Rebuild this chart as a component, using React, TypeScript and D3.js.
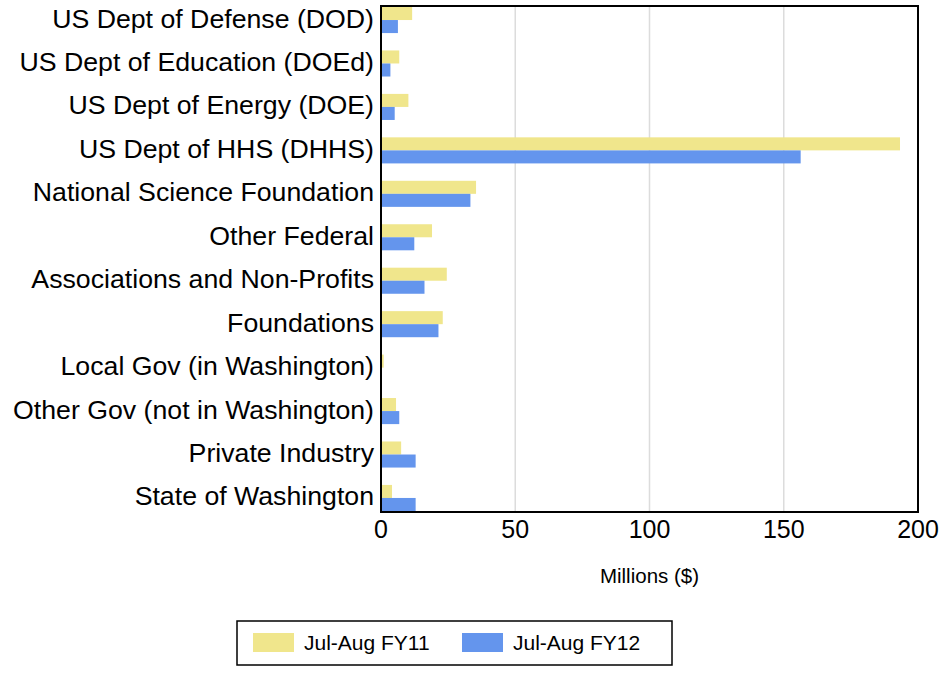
import React from "react";
import * as d3 from "d3";

const categories = [
  "US Dept of Defense (DOD)",
  "US Dept of Education (DOEd)",
  "US Dept of Energy (DOE)",
  "US Dept of HHS (DHHS)",
  "National Science Foundation",
  "Other Federal",
  "Associations and Non-Profits",
  "Foundations",
  "Local Gov (in Washington)",
  "Other Gov (not in Washington)",
  "Private Industry",
  "State of Washington",
];
const fy11 = [11.6, 6.8, 10.2, 193.3, 35.4, 19.0, 24.5, 23.0, 1.0, 5.6, 7.5, 4.1];
const fy12 = [6.3, 3.5, 5.1, 156.3, 33.3, 12.4, 16.2, 21.4, 0, 6.8, 12.9, 12.9];
const seriesNames = ["Jul-Aug FY11", "Jul-Aug FY12"];
const colors = ["#f0e68c", "#6495ed"];
const xTicks = [0, 50, 100, 150, 200];

const W = 951;
const H = 673;
const plot = { left: 381, right: 918, top: 6, bottom: 512 };
const font = "Arial, 'Liberation Sans', sans-serif";

export default function App() {
  const x = d3.scaleLinear().domain([0, 200]).range([plot.left, plot.right]);
  const y = d3
    .scaleBand<string>()
    .domain(categories)
    .range([plot.top + 1, plot.bottom - 1])
    .paddingInner(0.4)
    .paddingOuter(0);
  const sub = d3
    .scaleBand<number>()
    .domain([0, 1])
    .range([0, y.bandwidth()]);
  const series = [fy11, fy12];

  return (
    <svg
      width={W}
      height={H}
      style={{ position: "absolute", left: 0, top: 0, fontFamily: font }}
    >
      <rect x={0} y={0} width={W} height={H} fill="#fff" />
      {xTicks.slice(1, -1).map((t) => (
        <line
          key={t}
          x1={x(t)}
          x2={x(t)}
          y1={plot.top}
          y2={plot.bottom}
          stroke="#dcdcdc"
          strokeWidth={1.5}
        />
      ))}
      {series.map((vals, si) =>
        categories.map((c, i) => (
          <rect
            key={si + "-" + c}
            x={x(0)}
            y={(y(c) as number) + (sub(si) as number)}
            width={x(vals[i]) - x(0)}
            height={sub.bandwidth()}
            fill={colors[si]}
          />
        ))
      )}
      <rect
        x={plot.left}
        y={plot.top}
        width={plot.right - plot.left}
        height={plot.bottom - plot.top}
        fill="none"
        stroke="#000"
        strokeWidth={2}
      />
      {categories.map((c) => (
        <text
          key={c}
          x={374}
          y={(y(c) as number) + y.bandwidth() / 2 - 1.5}
          textAnchor="end"
          dominantBaseline="central"
          fontSize={26.7}
          fill="#000"
        >
          {c}
        </text>
      ))}
      {xTicks.map((t) => (
        <text
          key={t}
          x={x(t)}
          y={538}
          textAnchor="middle"
          fontSize={25}
          fill="#000"
        >
          {t}
        </text>
      ))}
      <text
        x={(plot.left + plot.right) / 2}
        y={583}
        textAnchor="middle"
        fontSize={20.5}
        fill="#000"
      >
        Millions ($)
      </text>
      <rect
        x={237}
        y={621}
        width={435}
        height={44}
        fill="#fff"
        stroke="#000"
        strokeWidth={1.5}
      />
      {seriesNames.map((n, i) => (
        <g key={n} transform={`translate(${253 + i * 209},633)`}>
          <rect x={0} y={0} width={41} height={19} fill={colors[i]} />
          <text x={51} y={17} fontSize={21} fill="#000">
            {n}
          </text>
        </g>
      ))}
    </svg>
  );
}
